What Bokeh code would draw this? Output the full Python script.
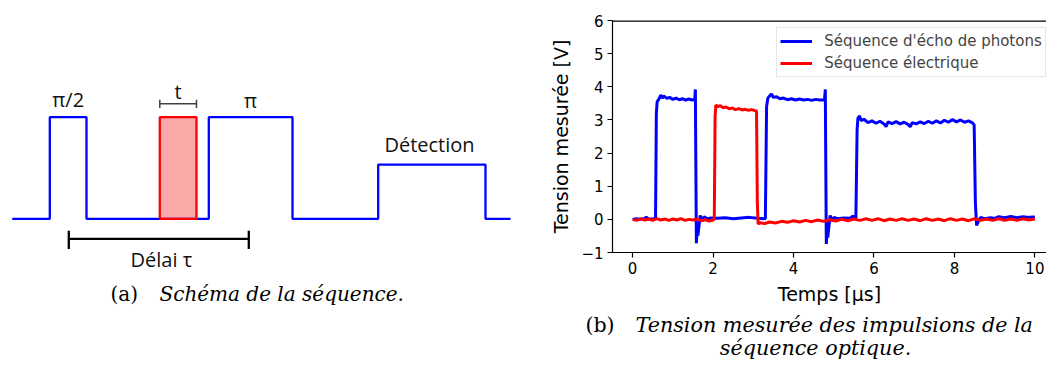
from bokeh.plotting import figure
from bokeh.layouts import row, column
from bokeh.models import Range1d, FixedTicker, Span
from bokeh.core.properties import value
from bokeh.embed import file_html
from bokeh.resources import INLINE

# ---------------- schematic (a) data ----------------
# step sequence: time positions (schematic units) and levels (0 = low, 1 = high)
seq_t = [11.7, 49.3, 49.3, 86.0, 86.0, 208.3, 208.3, 292.0, 292.0, 377.7, 377.7, 485.0, 485.0, 510.0]
seq_v = [0, 0, 1, 1, 0, 0, 1, 1, 0, 0, 0.534, 0.534, 0, 0]
free_t = [159.3, 196.0]          # free evolution pulse (red)
free_level = 1.0
delay_t = [68.3, 248.3]          # délai tau bracket
delay_level = -0.197
t_bracket_level = 1.132
schem_labels = ["π/2", "t", "π", "Détection", "Délai τ"]
schem_label_x = [67.7, 177.6, 250.0, 429.0, 160.8]
schem_label_y = [1.175, 1.25, 1.165, 0.735, -0.405]

# ---------------- measured traces (b) data ----------------
echo_t = [0.00, 0.10, 0.20, 0.30, 0.34, 0.38, 0.50, 0.57,
          0.59, 0.61, 0.65, 0.70, 0.74, 0.78, 0.85, 0.92, 1.00, 1.08, 1.16, 1.24, 1.32, 1.40, 1.48, 1.545,
          1.56, 1.57, 1.585, 1.60, 1.62, 1.65, 1.68, 1.72, 1.78, 1.85, 1.95, 2.10, 2.30, 2.50, 2.70, 2.90, 3.10, 3.30,
          3.33, 3.36, 3.40, 3.45, 3.50, 3.58, 3.66, 3.75, 3.85, 3.95, 4.05, 4.15, 4.25, 4.35, 4.45, 4.55, 4.65, 4.77,
          4.79, 4.80, 4.815, 4.83, 4.85, 4.88, 4.91, 4.95, 5.00, 5.10, 5.25, 5.40, 5.48, 5.51, 5.55,
          5.58, 5.60, 5.64, 5.68, 5.75, 5.85, 5.95, 6.05, 6.15, 6.25, 6.30, 6.35, 6.45, 6.55, 6.65, 6.75, 6.85, 6.90,
          6.95, 7.05, 7.15, 7.25, 7.35, 7.45, 7.55, 7.65, 7.75, 7.85, 7.95, 8.05, 8.15, 8.25, 8.35, 8.45,
          8.49, 8.52, 8.55, 8.60, 8.65, 8.75, 8.90, 9.00, 9.10, 9.25, 9.40, 9.55, 9.70, 9.85, 10.00]
echo_v = [0.00, 0.02, 0.00, 0.03, 0.07, 0.02, 0.01, 0.03,
          3.20, 3.55, 3.62, 3.75, 3.66, 3.72, 3.65, 3.68, 3.62, 3.66, 3.61, 3.64, 3.60, 3.63, 3.60, 3.62,
          3.92, 2.00, -0.72, -0.35, -0.50, -0.20, 0.12, -0.05, 0.08, 0.02, 0.04, 0.03, 0.05, 0.02, 0.04, 0.06, 0.03, 0.02,
          3.40, 3.65, 3.72, 3.78, 3.68, 3.70, 3.64, 3.66, 3.61, 3.64, 3.60, 3.63, 3.60, 3.62, 3.59, 3.62, 3.60, 3.61,
          3.92, 2.00, -0.74, -0.40, -0.55, -0.20, 0.12, -0.05, 0.06, 0.02, 0.04, 0.03, 0.10, 0.03, 0.05,
          2.70, 3.05, 3.12, 2.98, 3.02, 2.92, 2.97, 2.90, 2.96, 2.88, 2.80, 2.94, 2.89, 2.95, 2.88, 2.93, 2.86, 2.79,
          2.92, 2.88, 2.94, 2.89, 2.96, 2.90, 2.97, 2.91, 2.99, 2.93, 3.01, 2.94, 3.00, 2.93, 2.97, 2.91,
          2.85, 0.50, -0.18, -0.05, 0.06, 0.02, 0.05, 0.03, 0.08, 0.05, 0.09, 0.05, 0.08, 0.06, 0.07]

elec_t = [0.00, 0.10, 0.20, 0.30, 0.40, 0.50, 0.60, 0.70, 0.80, 0.90, 1.00, 1.10, 1.20, 1.30, 1.40, 1.50,
          1.60, 1.70, 1.80, 1.90, 2.00, 2.03,
          2.05, 2.07, 2.12, 2.18, 2.25, 2.32, 2.40, 2.48, 2.56, 2.64, 2.72, 2.80, 2.88, 2.96, 3.04, 3.08,
          3.10, 3.12, 3.18, 3.28, 3.40, 3.55, 3.70, 3.85, 4.00, 4.15, 4.30, 4.45, 4.60, 4.75, 4.90, 5.05,
          5.20, 5.35, 5.50, 5.65, 5.80, 5.95, 6.10, 6.25, 6.40, 6.55, 6.70, 6.85, 7.00, 7.15, 7.30, 7.45,
          7.60, 7.75, 7.90, 8.05, 8.20, 8.35, 8.50, 8.65, 8.80, 8.95, 9.10, 9.25, 9.40, 9.55, 9.70, 9.85, 10.00]
elec_v = [0.00, -0.03, 0.02, -0.02, 0.01, -0.03, 0.02, -0.02, 0.01, -0.03, 0.01, -0.02, 0.02, -0.03, 0.00, -0.02,
          0.01, -0.04, -0.01, -0.05, -0.02, 0.00,
          3.10, 3.45, 3.40, 3.43, 3.37, 3.39, 3.34, 3.36, 3.31, 3.34, 3.30, 3.32, 3.29, 3.31, 3.28, 3.27,
          0.50, -0.14, -0.10, -0.13, -0.08, -0.11, -0.06, -0.09, -0.04, -0.08, -0.03, -0.07, -0.02, -0.06, -0.01, -0.05,
          0.00, -0.04, 0.01, -0.03, 0.02, -0.03, 0.02, -0.04, 0.01, -0.03, 0.02, -0.03, 0.01, -0.04, 0.02, -0.03,
          0.01, -0.04, 0.02, -0.03, 0.01, -0.04, 0.02, -0.03, 0.01, -0.03, 0.02, -0.03, 0.01, -0.03, 0.02, -0.02, 0.01]

x_ticks = [0, 2, 4, 6, 8, 10]
y_ticks = [-1, 0, 1, 2, 3, 4, 5, 6]
series_names = ["Séquence d'écho de photons", "Séquence électrique"]
captions = ["(a)", "Schéma de la séquence.", "(b)", "Tension mesurée des impulsions de la", "séquence optique."]

BLUE = "#0000ff"
RED = "#ff0000"
SANS = value("Open Sans")
SERIF = value("DejaVu Serif")

# ---------------- left figure: schematic ----------------
pa = figure(width=540, height=371, output_backend="svg", toolbar_location=None,
            x_range=Range1d(0, 540), y_range=Range1d(-1.503, 2.149),
            min_border=0, outline_line_color=None)
pa.axis.visible = False
pa.grid.visible = False

pa.quad(left=[free_t[0]], right=[free_t[1]], bottom=[0], top=[free_level],
        fill_color="#fba8a8", line_color=None)
pa.line(seq_t, seq_v, line_color=BLUE, line_width=2.3)
pa.line([free_t[0], free_t[0], free_t[1], free_t[1], free_t[0]],
        [0, free_level, free_level, 0, 0], line_color=RED, line_width=2.3)
# t bracket
pa.line(free_t, [t_bracket_level] * 2, line_color="#404040", line_width=1.5)
pa.segment(x0=free_t, x1=free_t, y0=[t_bracket_level - 0.04] * 2, y1=[t_bracket_level + 0.04] * 2,
           line_color="#404040", line_width=1.5)
# delay bracket
pa.line(delay_t, [delay_level] * 2, line_color="black", line_width=2.3)
pa.segment(x0=delay_t, x1=delay_t, y0=[delay_level + 0.08] * 2, y1=[delay_level - 0.10] * 2,
           line_color="black", line_width=2.3)
pa.text(x=schem_label_x, y=schem_label_y, text=schem_labels, text_font=SANS,
        text_font_size="20px", text_align="center", text_baseline="middle", text_color="#111111")
pa.text(x=[110], y=[-0.740], text=[captions[0]], text_font=SERIF, text_font_size="20px",
        text_align="left", text_baseline="middle", text_color="black")
pa.text(x=[159], y=[-0.740], text=[captions[1]], text_font=SERIF, text_font_size="20px",
        text_font_style="italic", text_align="left", text_baseline="middle", text_color="black")

# ---------------- right figure: measurement ----------------
pb = figure(width=506, height=308, output_backend="svg", toolbar_location=None,
            x_range=Range1d(-0.5, 10.288), y_range=Range1d(-1, 6),
            min_border_left=72, min_border_right=0, min_border_top=20, min_border_bottom=56,
            outline_line_color=None)
pb.grid.visible = False
pb.line(echo_t, echo_v, line_color=BLUE, line_width=3, legend_label=series_names[0])
pb.line(elec_t, elec_v, line_color=RED, line_width=3, legend_label=series_names[1])
pb.add_layout(Span(location=6, dimension="width", line_color="black", line_width=2.4))

for ax in (pb.xaxis[0], pb.yaxis[0]):
    ax.axis_line_width = 1.2
    ax.major_tick_line_width = 1.2
    ax.major_tick_out = 5
    ax.major_tick_in = 0
    ax.minor_tick_line_color = None
    ax.major_label_text_font = "DejaVu Sans"
    ax.major_label_text_font_size = "15px"
    ax.major_label_text_color = "black"
    ax.axis_label_text_font = "DejaVu Sans"
    ax.axis_label_text_font_size = "19px"
    ax.axis_label_text_font_style = "normal"
    ax.axis_label_text_color = "black"
    ax.major_label_standoff = 4
    ax.axis_label_standoff = 6
pb.xaxis.ticker = FixedTicker(ticks=x_ticks)
pb.yaxis.ticker = FixedTicker(ticks=y_ticks)
pb.yaxis.major_label_overrides = {-1: "\u22121"}
pb.xaxis.axis_label = "Temps [µs]"
pb.yaxis.axis_label = "Tension mesurée [V]"

lg = pb.legend[0]
lg.location = (164.3, 174.7)
lg.label_text_font = "DejaVu Sans"
lg.label_text_font_size = "15px"
lg.glyph_width = 32
lg.glyph_height = 20
lg.label_height = 20
lg.label_standoff = 12
lg.padding = 3
lg.spacing = 2
lg.margin = 0
lg.border_line_color = "#cccccc"
lg.border_line_width = 1
lg.background_fill_alpha = 0.8

# ---------------- caption (b) ----------------
pc = figure(width=506, height=63, output_backend="svg", toolbar_location=None,
            x_range=Range1d(540, 1046), y_range=Range1d(371, 308),
            min_border=0, outline_line_color=None)
pc.frame_align = False
pc.axis.visible = False
pc.grid.visible = False
pc.text(x=[585], y=[324], text=[captions[2]], text_font=SERIF, text_font_size="20.5px",
        text_align="left", text_baseline="middle", text_color="black")
pc.text(x=[635], y=[324], text=[captions[3]], text_font=SERIF, text_font_size="20.7px",
        text_font_style="italic", text_align="left", text_baseline="middle", text_color="black")
pc.text(x=[815], y=[347], text=[captions[4]], text_font=SERIF, text_font_size="20.7px",
        text_font_style="italic", text_align="center", text_baseline="middle", text_color="black")

layout = row(pa, column(pb, pc, spacing=0), spacing=0)
open("out.html", "w").write(file_html(layout, INLINE))
